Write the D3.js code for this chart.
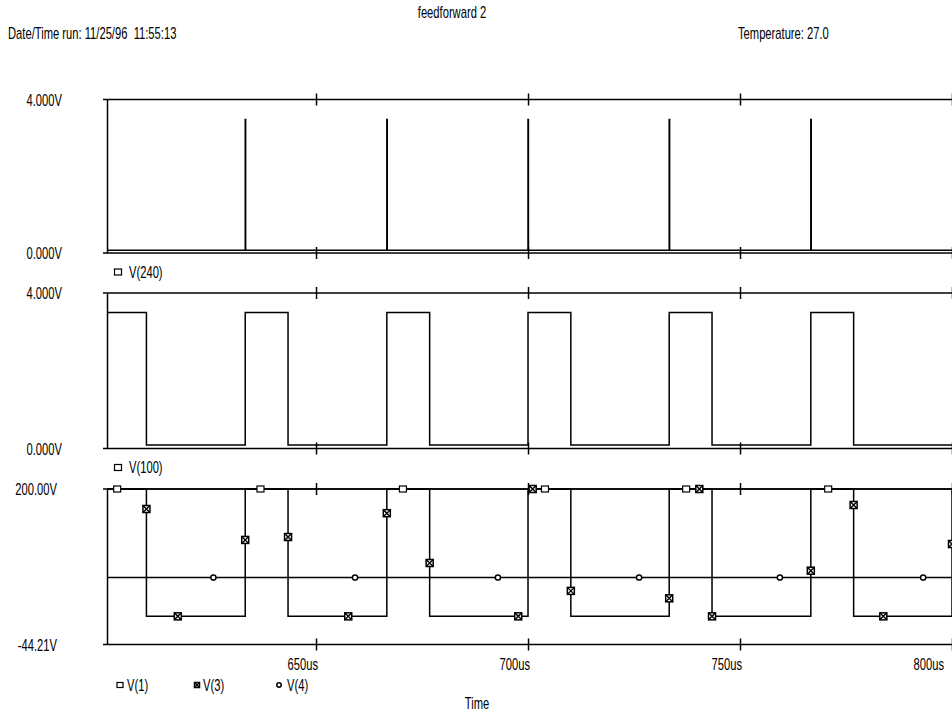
<!DOCTYPE html>
<html>
<head>
<meta charset="utf-8">
<script src="https://cdn.jsdelivr.net/npm/d3@7"></script>
<style>
  body { margin: 0; background: #fff; }
  svg text { font-family: "Liberation Sans Narrow", "Arial Narrow", "Liberation Sans", Arial, sans-serif; font-size: 16px; fill: #000; }
</style>
</head>
<body>
<div id="chart"></div>
<script>
"use strict";

// time axis (us)
var timeRange = [600.7, 800];
var timeTicks = [650, 700, 750, 800];
var timeTickLabels = ["650us", "700us", "750us", "800us"];

// V(240): gate spikes on rising edges
var v240 = [
    [600.7, 0.07], [633.3, 0.07], [633.3, 3.48], [633.4, 3.48], [633.4, 0.07],
    [666.7, 0.07], [666.7, 3.48], [666.8, 3.48], [666.8, 0.07],
    [700.0, 0.07], [700.0, 3.48], [700.1, 3.48], [700.1, 0.07],
    [733.3, 0.07], [733.3, 3.48], [733.4, 3.48], [733.4, 0.07],
    [766.7, 0.07], [766.7, 3.48], [766.8, 3.48], [766.8, 0.07],
    [800, 0.07]
];

// V(100): drive pulses
var v100 = [
    [600.7, 3.50], [610.0, 3.50], [610.0, 0.09], [633.3, 0.09],
    [633.3, 3.50], [643.4, 3.50], [643.4, 0.09], [666.7, 0.09],
    [666.7, 3.50], [676.8, 3.50], [676.8, 0.09], [700.0, 0.09],
    [700.0, 3.50], [710.1, 3.50], [710.1, 0.09], [733.3, 0.09],
    [733.3, 3.50], [743.4, 3.50], [743.4, 0.09], [766.7, 0.09],
    [766.7, 3.50], [776.8, 3.50], [776.8, 0.09], [800, 0.09]
];

// bottom panel series
var v1 = [[600.7, 200], [800, 200]];
var v3 = [
    [600.7, 200], [610.0, 200], [610.0, 0], [633.3, 0],
    [633.3, 200], [643.4, 200], [643.4, 0], [666.7, 0],
    [666.7, 200], [676.8, 200], [676.8, 0], [700.0, 0],
    [700.0, 200], [710.1, 200], [710.1, 0], [733.3, 0],
    [733.3, 200], [743.4, 200], [743.4, 0], [766.7, 0],
    [766.7, 200], [776.8, 200], [776.8, 0], [800, 0], [800, 200]
];
var v4 = [[600.7, 61], [800, 61]];

// marker positions
var v1Markers = [603.1, 636.9, 670.5, 704.0, 737.3, 770.8];
var v3Markers = [
    [610.0, 168.6], [617.4, 0], [633.3, 120], [643.4, 124.6], [657.6, 0],
    [666.7, 162], [676.8, 83.8], [697.7, 0], [701.1, 200], [710.1, 40],
    [733.3, 28.3], [740.4, 200], [743.4, 0], [766.7, 71.7], [776.8, 174.9],
    [783.8, 0], [800, 113.6]
];
var v4Markers = [625.8, 659.2, 692.9, 726.2, 759.4, 793.2];

var width = 952, height = 714;
var left = 107, right = 952;
var squeeze = 0.7;   // printout font is strongly condensed
var lw = 1.5;

var svg = d3.select("#chart").append("svg")
    .attr("width", width)
    .attr("height", height);

var x = d3.scaleLinear().domain(timeRange).range([left, right]);

var panels = [
    { top: 99.5, bottom: 253, domain: [0, 4], labels: ["0.000V", "4.000V"], labelRight: 62,
      legend: "V(240)", lines: [v240] },
    { top: 293, bottom: 448.5, domain: [0, 4], labels: ["0.000V", "4.000V"], labelRight: 62,
      legend: "V(100)", lines: [v100] },
    { top: 489, bottom: 644.5, domain: [-44.21, 200], labels: ["-44.21V", "200.00V"], labelRight: 57,
      legend: null, lines: [v4, v3, v1] }
];

function drawSquare(g, cx, cy, s) {
    s = s || 7;
    g.append("rect")
        .attr("x", cx - s / 2).attr("y", cy - s / 2 + 0.5)
        .attr("width", s).attr("height", s - 1)
        .attr("fill", "#fff").attr("stroke", "#000").attr("stroke-width", 1.2);
}

function drawBoxX(g, cx, cy, s) {
    s = s || 7;
    var h = s / 2;
    g.append("rect")
        .attr("x", cx - h).attr("y", cy - h)
        .attr("width", s).attr("height", s)
        .attr("fill", "#fff").attr("stroke", "#000").attr("stroke-width", 1.5);
    g.append("path")
        .attr("d", "M" + (cx - h) + "," + (cy - h) + "L" + (cx + h) + "," + (cy + h) +
                   "M" + (cx + h) + "," + (cy - h) + "L" + (cx - h) + "," + (cy + h))
        .attr("stroke", "#000").attr("stroke-width", 1.4);
}

function drawCircle(g, cx, cy, r) {
    g.append("circle")
        .attr("cx", cx).attr("cy", cy).attr("r", r || 2.6)
        .attr("fill", "#fff").attr("stroke", "#000").attr("stroke-width", 1.5);
}

panels.forEach(function (p, pi) {
    var y = d3.scaleLinear().domain(p.domain).range([p.bottom, p.top]);
    var g = svg.append("g").attr("class", "panel");

    // frame lines
    [p.top, p.bottom].forEach(function (yy) {
        g.append("line")
            .attr("x1", left - 4).attr("x2", right)
            .attr("y1", yy).attr("y2", yy)
            .attr("stroke", "#000");

        // ticks crossing the frame line
        g.append("g")
            .attr("transform", "translate(0," + yy + ")")
            .call(d3.axisTop(x).tickValues(timeTicks).tickSize(6).tickFormat(""))
            .call(function (a) { a.select(".domain").remove(); });
        g.append("g")
            .attr("transform", "translate(0," + yy + ")")
            .call(d3.axisBottom(x).tickValues(timeTicks).tickSize(6).tickFormat(""))
            .call(function (a) { a.select(".domain").remove(); });
    });

    // y axis with end labels
    var yAxis = g.append("g")
        .attr("transform", "translate(" + left + ",0)")
        .call(d3.axisLeft(y)
            .tickValues(p.domain)
            .tickSize(0)
            .tickSizeOuter(0)
            .tickPadding(left - p.labelRight)
            .tickFormat(function (d, i) { return p.labels[i]; }));
    yAxis.select(".domain").attr("stroke-width", lw);
    yAxis.selectAll(".tick text").attr("dy", "0.36em");
    g.selectAll("line").attr("stroke-width", lw);

    var line = d3.line()
        .x(function (d) { return x(d[0]); })
        .y(function (d) { return y(d[1]); });

    g.selectAll("path.trace")
        .data(p.lines)
        .enter().append("path")
        .attr("class", "trace")
        .attr("d", line)
        .attr("fill", "none")
        .attr("stroke", "#000")
        .attr("stroke-width", lw);

    if (p.legend) {
        var ly = p.bottom + 19;
        drawSquare(g, 118, ly);
        g.append("text").attr("x", 129).attr("y", ly).attr("dy", "0.36em").text(p.legend);
    }

    if (pi === 2) {
        var mg = g.append("g").attr("class", "markers");
        v4Markers.forEach(function (t) { drawCircle(mg, x(t), y(61)); });
        v1Markers.forEach(function (t) { drawSquare(mg, x(t), y(200)); });
        v3Markers.forEach(function (d) { drawBoxX(mg, x(d[0]), y(d[1])); });

        // time tick labels, right-aligned on the tick
        g.append("g").selectAll("text")
            .data(timeTicks)
            .enter().append("text")
            .attr("x", function (d) { return Math.min(x(d) + 2, width - 8); })
            .attr("y", p.bottom + 20)
            .attr("dy", "0.36em")
            .attr("text-anchor", "end")
            .text(function (d, i) { return timeTickLabels[i]; });

        // bottom legend
        var by = 685;
        drawSquare(g, 120, by, 6);
        g.append("text").attr("x", 127).attr("y", by).attr("dy", "0.36em").text("V(1)");
        drawBoxX(g, 197, by, 5);
        g.append("text").attr("x", 203).attr("y", by).attr("dy", "0.36em").text("V(3)");
        drawCircle(g, 279, by, 2.2);
        g.append("text").attr("x", 287).attr("y", by).attr("dy", "0.36em").text("V(4)");

        g.append("text").attr("x", 477).attr("y", 703).attr("dy", "0.36em")
            .attr("text-anchor", "middle").text("Time");
    }
});

// header
svg.append("text").attr("x", 452).attr("y", 12).attr("dy", "0.36em")
    .attr("text-anchor", "middle").text("feedforward 2");
svg.append("text").attr("x", 8).attr("y", 33).attr("dy", "0.36em")
    .text("Date/Time run: 11/25/96\u00a0 11:55:13");
svg.append("text").attr("x", 738).attr("y", 33).attr("dy", "0.36em")
    .text("Temperature: 27.0");

// condense every label horizontally around its anchor point,
// to match the narrow printer font
svg.selectAll("text").each(function () {
    var el = d3.select(this);
    var x0 = +el.attr("x") || 0;
    el.attr("x", 0)
        .attr("transform", "translate(" + x0 + ",0) scale(" + squeeze + ",1)");
});
</script>
</body>
</html>
